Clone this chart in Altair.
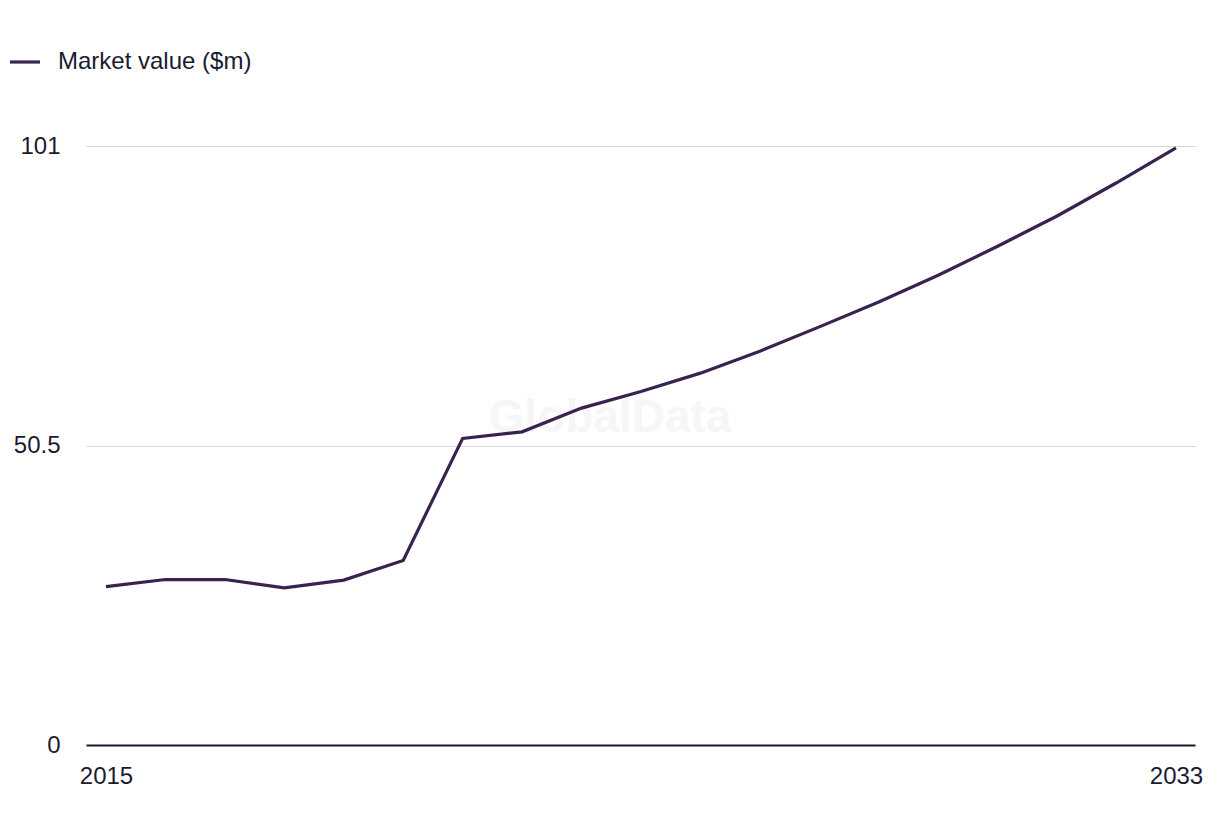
import altair as alt
import pandas as pd

years = list(range(2015, 2034))
values = [26.7, 27.9, 27.9, 26.5, 27.8, 31.1, 51.7, 52.8, 56.8, 59.6, 62.7,
          66.4, 70.5, 74.7, 79.2, 84.1, 89.2, 94.8, 100.7]
series = "Market value ($m)"
y_ticks = [0, 50.5, 101]
x_ticks = [2015, 2033]

df = pd.DataFrame({"year": years, "value": values, "series": [series] * len(years)})

FONT = "Liberation Sans"
TEXT = "#1b1b2f"
LINE = "#38234f"
FS = 24

line = alt.Chart(df).mark_line(strokeWidth=3.2).encode(
    x=alt.X("year:Q",
            scale=alt.Scale(domain=[2014.664, 2033.32], nice=False, zero=False),
            axis=alt.Axis(values=x_ticks, format="d", title=None, grid=False,
                          tickSize=0, labelPadding=19, domainColor=TEXT,
                          domainWidth=2, labelFontSize=FS, labelColor=TEXT,
                          labelFont=FONT)),
    y=alt.Y("value:Q",
            scale=alt.Scale(domain=[0, 101], nice=False),
            axis=alt.Axis(values=y_ticks, format=".4~g", title=None, domain=False,
                          tickSize=0, labelPadding=26, gridColor="#d6d6d6",
                          gridWidth=1.2, labelFontSize=FS, labelColor=TEXT,
                          labelFont=FONT)),
    color=alt.Color("series:N",
                    scale=alt.Scale(domain=[series], range=[LINE]),
                    legend=alt.Legend(title=None, orient="none", legendX=-78,
                                      legendY=-101, symbolType="stroke",
                                      symbolSize=900, symbolStrokeWidth=3.2,
                                      labelFontSize=FS, labelColor=TEXT,
                                      labelFont=FONT, labelOffset=16,
                                      labelLimit=0, padding=0)),
)

watermark = alt.Chart(pd.DataFrame({"t": ["GlobalData"]})).mark_text(
    fontSize=46, fontWeight="bold", font=FONT, color="#f6f6f8"
).encode(text="t:N", x=alt.value(524), y=alt.value(272))

chart = alt.layer(watermark, line).properties(
    width=1109, height=599,
    padding={"left": 78, "top": 138, "right": 17, "bottom": 60},
    autosize=alt.AutoSizeParams(type="none"),
).configure_view(stroke=None)

chart.save("out.html", embed_options={"renderer": "svg", "actions": False})
